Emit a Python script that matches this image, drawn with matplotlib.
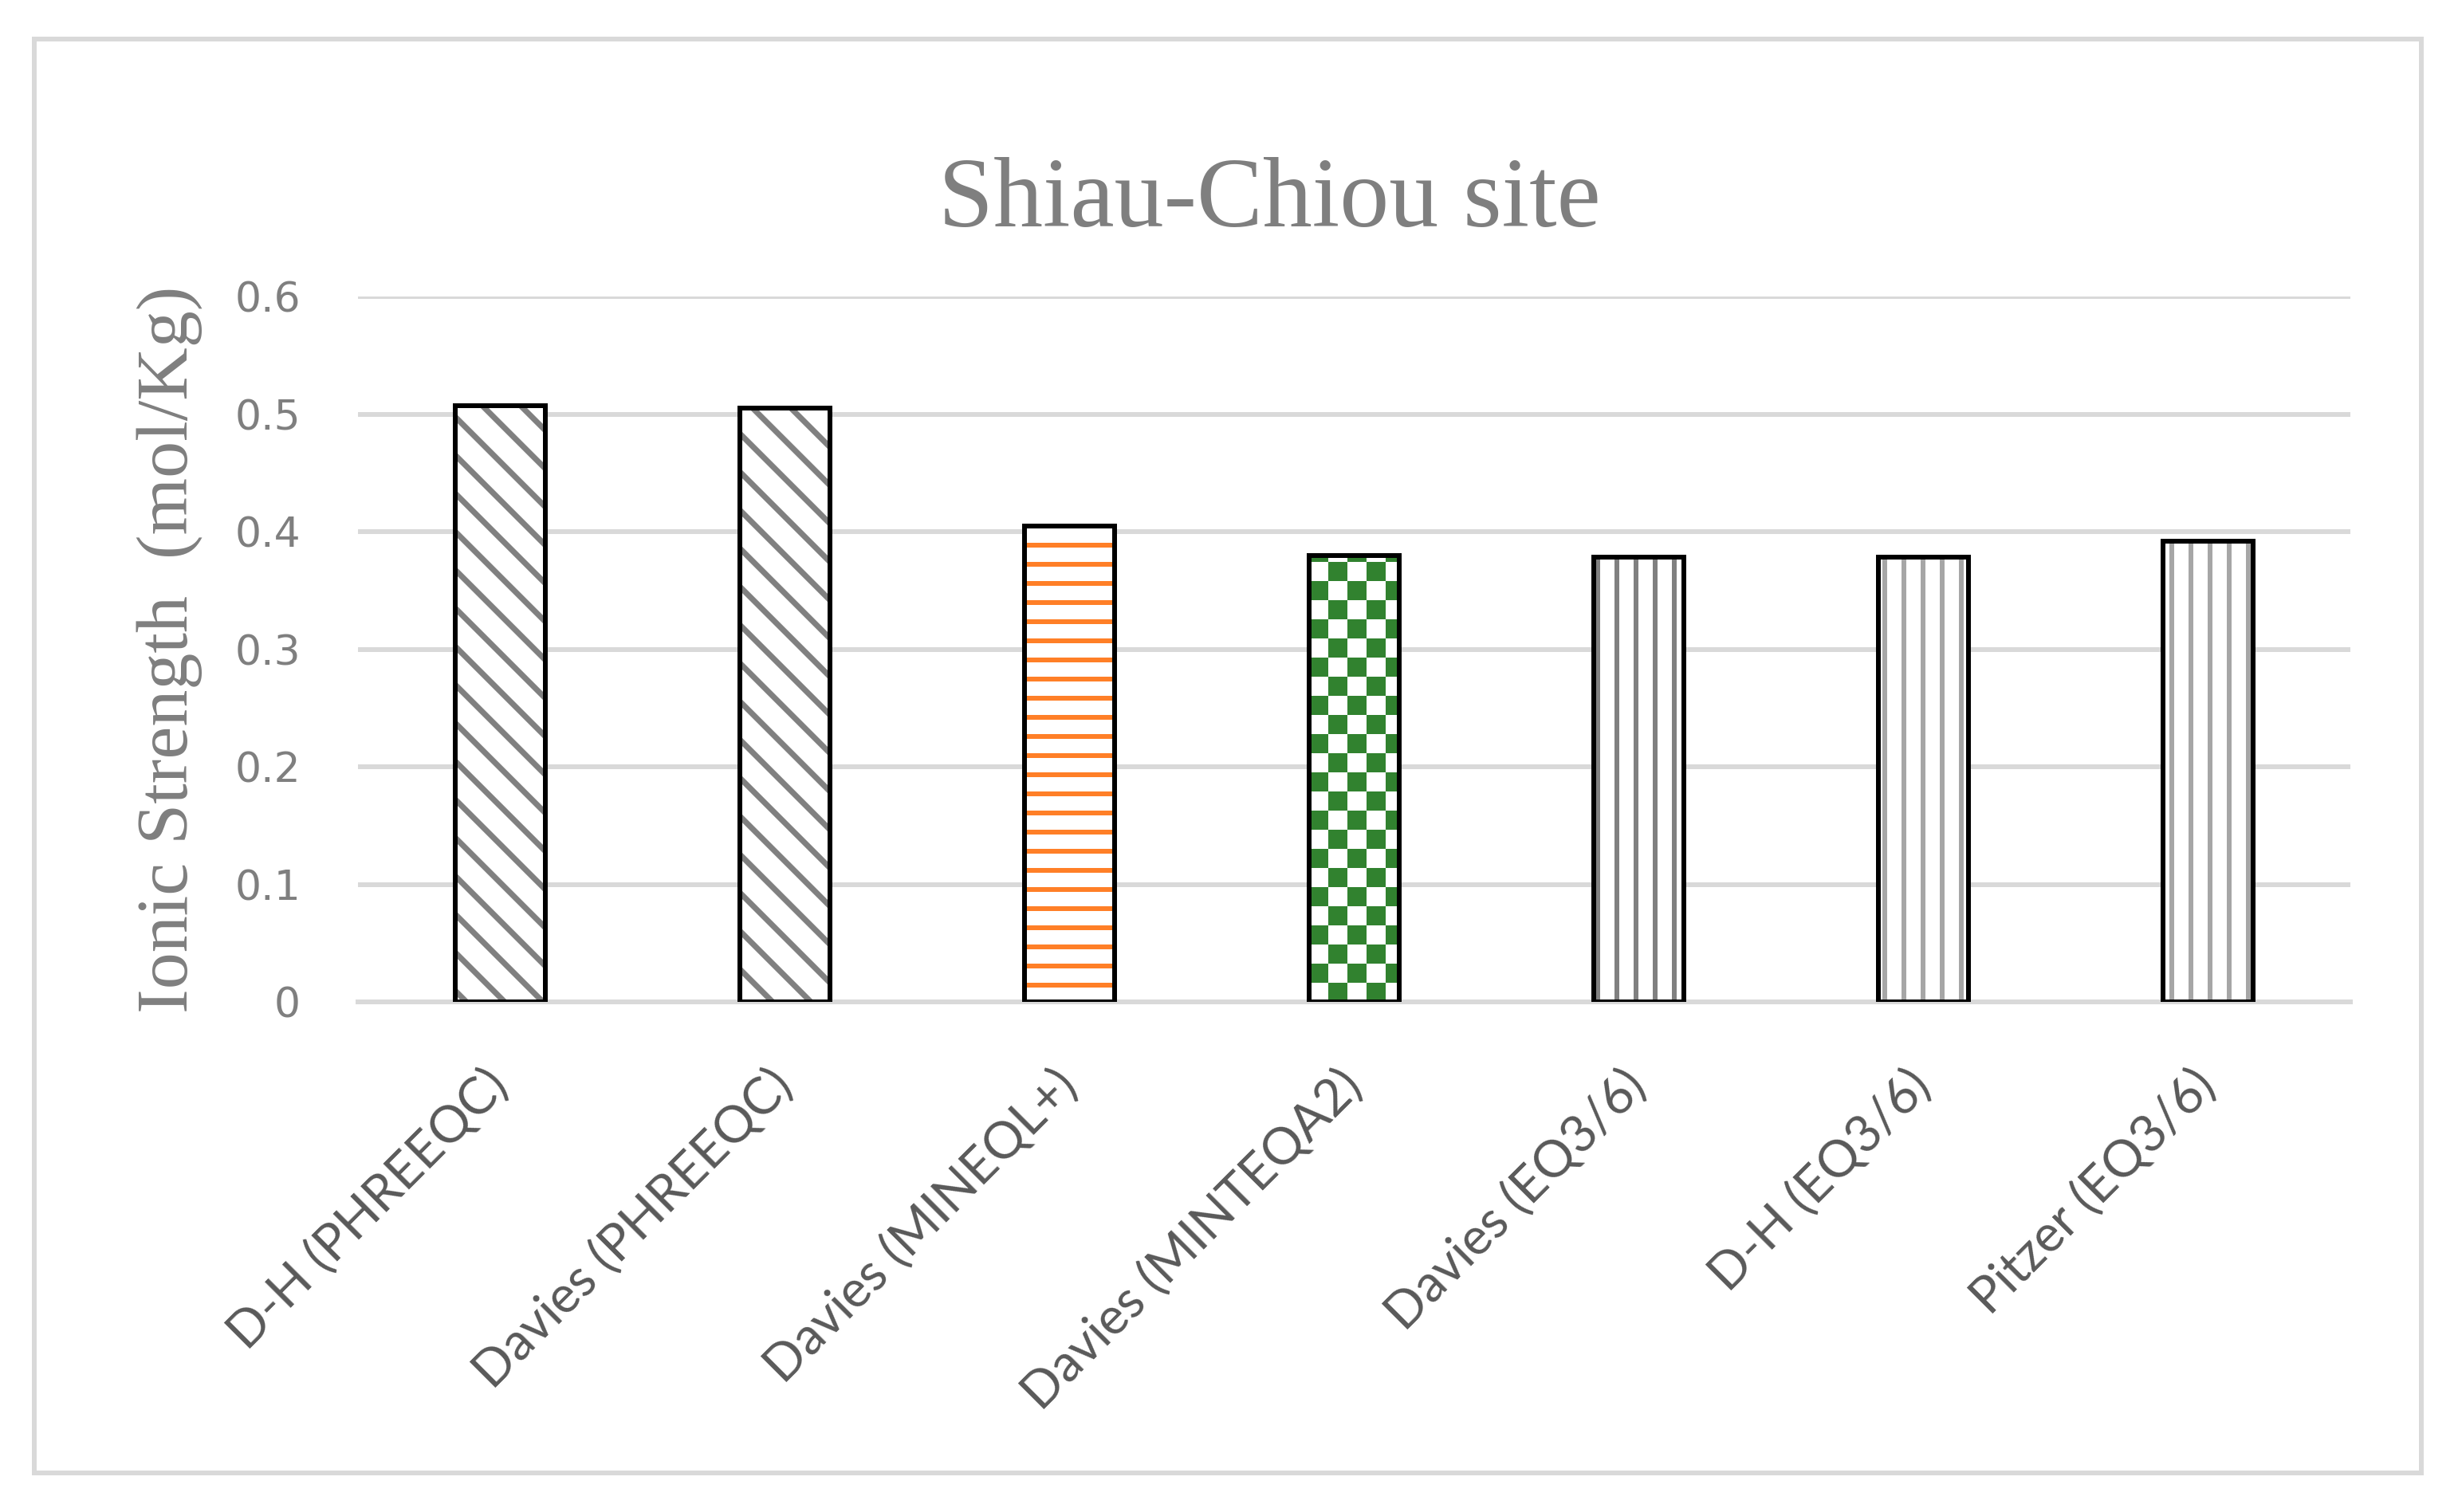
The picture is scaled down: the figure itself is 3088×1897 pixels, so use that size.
import numpy as np
import matplotlib
matplotlib.use("Agg")
import matplotlib.pyplot as plt
from matplotlib.patches import Rectangle

# data
methods = ["D-H (PHREEQC)", "Davies (PHREEQC)", "Davies (MINEQL+)", "Davies (MINTEQA2)",
           "Davies (EQ3/6)", "D-H (EQ3/6)", "Pitzer (EQ3/6)"]
ionic_strength = [0.507, 0.505, 0.405, 0.380, 0.378, 0.378, 0.392]
hatches = ["\\\\", "\\\\", "--", None, "||", "||", "||"]
hatch_colors = ["#808080", "#808080", "#ff7f27", "#31822f", "#808080", "#a6a6a6", "#a6a6a6"]
yticks = [0, 0.1, 0.2, 0.3, 0.4, 0.5, 0.6]

W, H, DPI = 3088, 1897, 288
fig = plt.figure(figsize=(W / DPI, H / DPI), dpi=DPI)
ax = fig.add_axes([449 / W, 1 - 1257 / H, (2948 - 449) / W, (1257 - 372) / H])

# outer chart frame
fig.patches.append(Rectangle((43 / W, 1 - 1848 / H), (3037 - 43) / W, (1848 - 49) / H,
                             transform=fig.transFigure, fill=False,
                             edgecolor="#d9d9d9", linewidth=1.5))

x = np.arange(len(methods))
bw = 0.315
ax.set_xlim(-0.5, len(methods) - 0.5)
ax.set_ylim(0, 0.6)

for i, (v, h, c) in enumerate(zip(ionic_strength, hatches, hatch_colors)):
    if h is not None:
        lw = 1.8 if "\\" in h else 1.5
        with plt.rc_context({"hatch.linewidth": lw}):
            hb = ax.bar(x[i], v, bw, color="white", edgecolor=c, hatch=h, linewidth=0, zorder=2)
        for p in hb:
            if hasattr(p, "set_hatch_linewidth"):
                p.set_hatch_linewidth(lw)
    else:
        # checkerboard fill, cells of ~24 px
        cell_px = 24
        x0, x1 = x[i] - bw / 2, x[i] + bw / 2
        px = ax.transData.transform([(x0, 0), (x1, v)])
        nx = int(np.ceil((px[1, 0] - px[0, 0]) / cell_px)) + 1
        ny = int(np.ceil((px[1, 1] - px[0, 1]) / cell_px)) + 1
        board = (np.add.outer(np.arange(ny), np.arange(nx)) % 2).astype(float)
        ex = ax.transData.inverted().transform([(px[0, 0], px[0, 1]),
                                                 (px[0, 0] + nx * cell_px, px[0, 1] + ny * cell_px)])
        cmap = matplotlib.colors.ListedColormap(["white", c])
        im = ax.imshow(board, cmap=cmap, extent=[ex[0, 0], ex[1, 0], ex[0, 1], ex[1, 1]],
                       origin="lower", aspect="auto", interpolation="nearest", zorder=2)
        clip = Rectangle((x0, 0), bw, v, transform=ax.transData)
        im.set_clip_path(clip)
    ax.bar(x[i], v, bw, fill=False, edgecolor="black", linewidth=1.5, zorder=3)

ax.set_xlim(-0.5, len(methods) - 0.5)
ax.set_ylim(0, 0.6)
ax.set_yticks(yticks)
ax.set_yticklabels(["0", "0.1", "0.2", "0.3", "0.4", "0.5", "0.6"])
ax.yaxis.grid(True, color="#d9d9d9", linewidth=1.5, zorder=0)
ax.set_axisbelow(True)
for s in ["top", "right", "left"]:
    ax.spines[s].set_visible(False)
ax.spines["bottom"].set_color("#d9d9d9")
ax.spines["bottom"].set_linewidth(1.5)
ax.tick_params(axis="both", length=0)
ax.tick_params(axis="y", pad=18, labelsize=13, labelcolor="#7f7f7f")
for lab in ax.get_yticklabels():
    lab.set_family("DejaVu Sans")

ax.set_xticks(x)
ax.set_xticklabels(methods, rotation=45, ha="right", va="center", rotation_mode="anchor",
                   fontsize=16, color="#595959", family="Lato")
ax.tick_params(axis="x", pad=24)

ax.set_ylabel("Ionic Strength  (mol/Kg)", family="Liberation Serif", fontsize=23,
              color="#7f7f7f", labelpad=10)
fig.text(0.5157, 1 - 254 / H, "Shiau-Chiou site", ha="center", va="center",
         family="Liberation Serif", fontsize=31, color="#7f7f7f")

fig.savefig("out.png", dpi=DPI)
